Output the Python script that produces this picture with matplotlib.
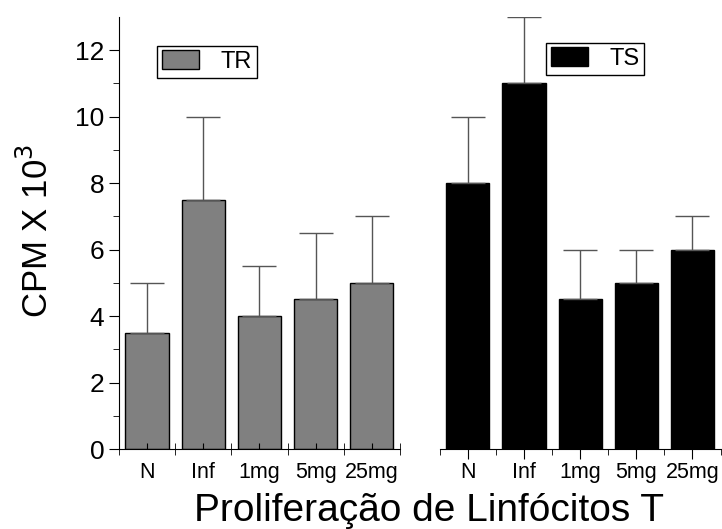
import matplotlib.pyplot as plt
from matplotlib.patches import Patch

plt.rcParams['font.family'] = ['Liberation Sans', 'DejaVu Sans']

groups = ['N', 'Inf', '1mg', '5mg', '25mg']
tr = [3.5, 7.5, 4.0, 4.5, 5.0]
tr_err = [1.5, 2.5, 1.5, 2.0, 2.0]
ts = [8.0, 11.0, 4.5, 5.0, 6.0]
ts_err = [2.0, 2.0, 1.5, 1.0, 1.0]

fig = plt.figure(figsize=(7.22, 5.29), dpi=100)
ax1 = fig.add_axes([0.1648, 0.1512, 0.389, 0.8166])
ax2 = fig.add_axes([0.609, 0.1512, 0.389, 0.8166])

x = range(len(groups))
ax1.bar(x, tr, width=0.77, color='#808080', edgecolor='black', linewidth=1,
        yerr=[[0] * 5, tr_err], capsize=12,
        error_kw=dict(ecolor='#555555', elinewidth=1, capthick=1))
ax2.bar(x, ts, width=0.77, color='black', edgecolor='black', linewidth=1,
        yerr=[[0] * 5, ts_err], capsize=12,
        error_kw=dict(ecolor='#555555', elinewidth=1, capthick=1))

bounds = [-0.5, 0.5, 1.5, 2.5, 3.5, 4.5]
for ax in (ax1, ax2):
    ax.set_xlim(-0.5, 4.5)
    ax.set_ylim(0, 13)
    ax.spines['top'].set_visible(False)
    ax.spines['right'].set_visible(False)
    ax.set_xticks(list(x))
    ax.set_xticklabels(groups, fontsize=15.5)
    ax.set_xticks(bounds, minor=True)

ax1.tick_params(axis='x', which='major', direction='in', length=4, pad=9)
ax1.tick_params(axis='x', which='minor', direction='inout', length=8)
ax1.set_yticks(range(0, 13, 2))
ax1.set_yticks(range(1, 13, 2), minor=True)
ax1.tick_params(axis='y', which='major', labelsize=19, length=7, direction='out')
ax1.tick_params(axis='y', which='minor', length=4, direction='out')

ax2.spines['left'].set_visible(False)
ax2.set_yticks([])
ax2.tick_params(axis='x', which='major', direction='out', length=7, pad=2)
ax2.tick_params(axis='x', which='minor', direction='out', length=4)

leg_kw = dict(loc='upper left', fontsize=17, fancybox=False, edgecolor='black',
              framealpha=1, handlelength=1.6, handleheight=0.85,
              borderpad=0.2, handletextpad=0.9)
ax1.legend(handles=[Patch(facecolor='#808080', edgecolor='black', label='TR')],
           bbox_to_anchor=(0.093, 0.961), **leg_kw)
ax2.legend(handles=[Patch(facecolor='black', edgecolor='black', label='TS')],
           bbox_to_anchor=(0.336, 0.968), **leg_kw)

fig.text(0.594, 0.034, 'Proliferação de Linfócitos T', fontsize=28,
         ha='center', va='center')
fig.text(0.051, 0.563, 'CPM X 10$^3$', fontsize=25, rotation=90,
         ha='center', va='center')

plt.savefig('out.png', dpi=100)
